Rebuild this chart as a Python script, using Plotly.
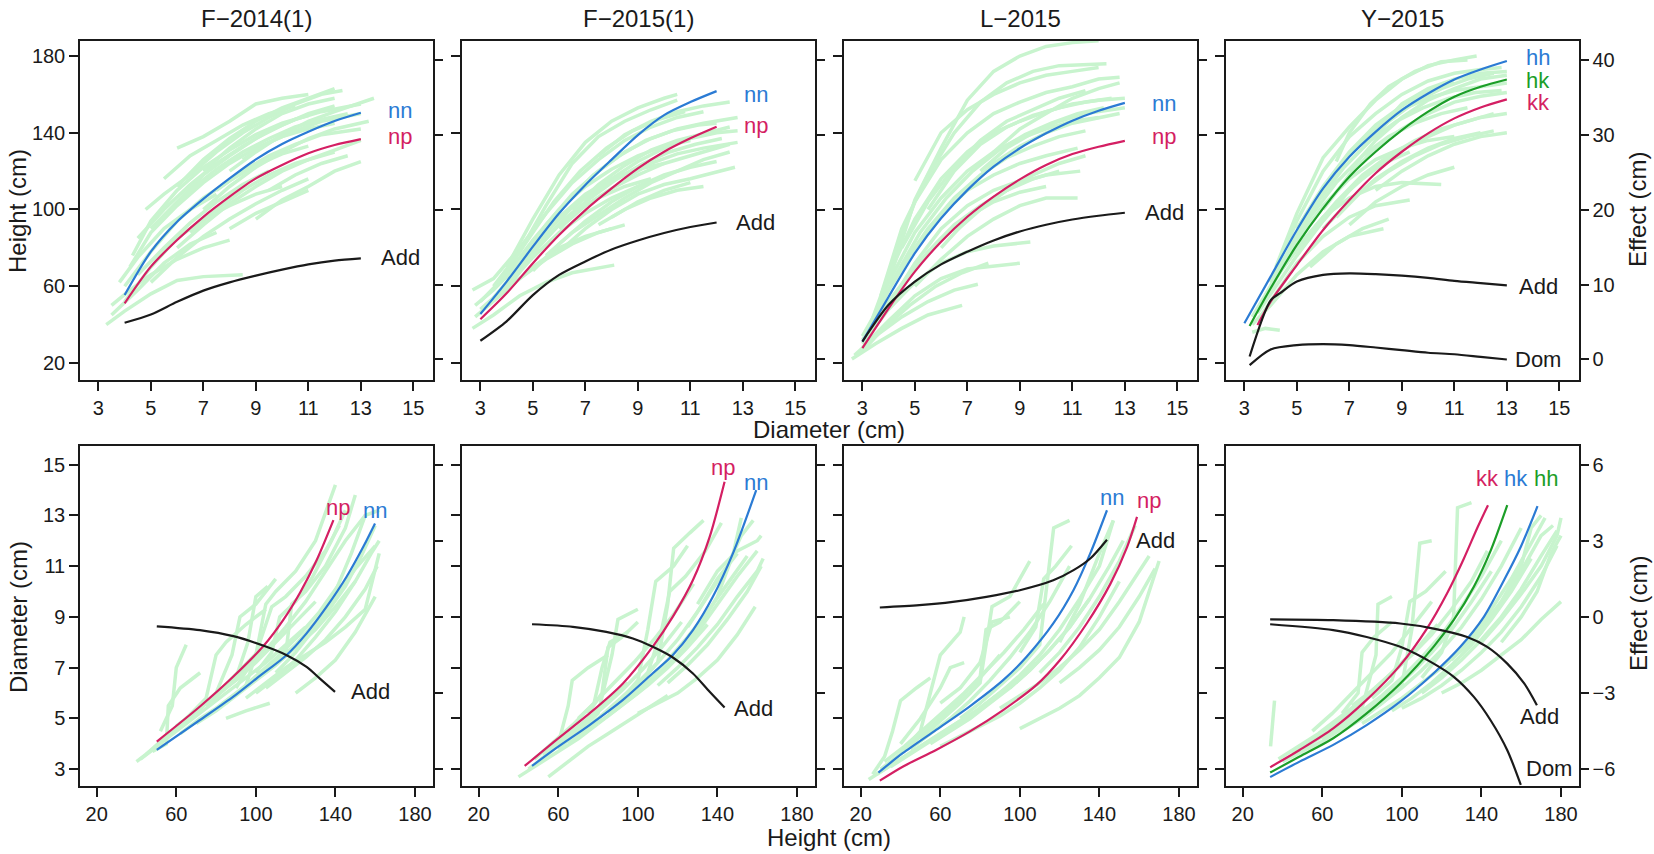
import plotly.graph_objects as go

# ---------------- top row: height vs diameter ----------------
t1_diam = [4, 5, 6, 7, 8, 9, 10, 11, 12, 13]
t1_nn = [55.4, 78.0, 93.6, 105.5, 116.2, 126.1, 134.1, 140.5, 146.1, 150.4]
t1_np = [51.1, 70.2, 84.1, 96.2, 106.7, 116.2, 123.2, 129.3, 133.6, 136.7]
t1_add = [4.9, 6.0, 7.7, 9.2, 10.3, 11.2, 12.0, 12.7, 13.2, 13.5]

t2_diam = [3, 4, 5, 6, 7, 8, 9, 10, 11, 12]
t2_nn = [45.5, 62.4, 80.6, 98.0, 112.8, 126.0, 138.8, 149.2, 156.0, 161.7]
t2_np = [42.8, 56.3, 72.0, 86.7, 99.7, 111.0, 121.4, 130.1, 137.1, 143.1]
t2_add = [2.5, 5.1, 8.6, 11.3, 13.1, 14.7, 15.9, 16.9, 17.7, 18.3]

t3_diam = [3, 4, 5, 6, 7, 8, 9, 10, 11, 12, 13]
t3_nn = [31.1, 54.5, 77.2, 95.4, 110.1, 122.3, 131.9, 139.7, 146.3, 151.5, 155.6]
t3_np = [27.7, 48.5, 67.6, 83.2, 96.2, 106.7, 115.7, 123.2, 128.9, 132.7, 135.8]
t3_add = [2.4, 7.3, 10.4, 12.7, 14.4, 15.9, 17.1, 18.0, 18.7, 19.2, 19.6]

t4_hh_x = [3, 4, 5, 6, 7, 8, 9, 10, 11, 12, 13]
t4_hh = [40.7, 65.0, 89.3, 111.0, 127.5, 140.5, 151.8, 160.5, 167.8, 173.0, 177.4]
t4_hk_x = [3.2, 4, 5, 6, 7, 8, 9, 10, 11, 12, 13]
t4_hk = [39.3, 58.9, 81.5, 100.6, 117.1, 130.1, 141.4, 151.0, 158.8, 164.0, 167.8]
t4_kk_x = [3.5, 4, 5, 6, 7, 8, 9, 10, 11, 12, 13]
t4_kk = [39.8, 52.0, 71.0, 89.3, 104.9, 118.9, 130.1, 139.7, 147.5, 153.2, 157.4]
t4_add_x = [3.2, 4.0, 4.36, 5, 6, 7, 8, 9, 10, 11, 12, 13]
t4_add = [0.4, 7.9, 8.85, 10.4, 11.3, 11.5, 11.4, 11.2, 10.9, 10.5, 10.2, 9.9]
t4_dom_x = [3.2, 4, 5, 6, 7, 8, 9, 10, 11, 12, 13]
t4_dom = [-0.76, 1.34, 1.92, 2.06, 1.92, 1.6, 1.25, 0.9, 0.7, 0.35, 0.0]

# individual trees (diameter, height)
t1_trees = [
    [(3.3, 40), (4, 47), (5, 56), (6, 63), (7, 65), (8.5, 66)],
    [(3.5, 45), (4.5, 58), (5.5, 72), (6.5, 82), (7.5, 88)],
    [(4, 52), (5, 70), (6, 85), (7, 95), (8, 102), (9, 108), (10, 112)],
    [(4, 60), (5, 78), (6, 94), (7, 106), (8, 115), (9, 123), (10, 129), (11, 133)],
    [(4.2, 70), (5, 88), (6, 102), (7, 114), (8, 124), (9, 132), (10, 138), (11, 142), (12, 145)],
    [(4.5, 85), (5.5, 100), (6.5, 113), (7.5, 124), (8.5, 133), (9.5, 141), (10.5, 147), (11.5, 151), (13, 155)],
    [(4.8, 100), (5.5, 108), (6.5, 118), (7.5, 130), (8.5, 140), (9.5, 148), (10.5, 155), (11.5, 160), (12.3, 162)],
    [(6, 132), (7, 138), (8, 146), (9, 155), (10, 158), (11, 160)],
    [(5, 62), (6, 75), (7, 86), (8, 95), (9, 103), (10, 110), (11, 116)],
    [(6, 80), (7, 92), (8, 103), (9, 112), (10, 120), (11, 126), (12, 131), (13, 136)],
    [(7, 100), (8, 112), (9, 122), (10, 130), (11, 137), (12, 142), (13.3, 146)],
    [(8, 120), (9, 130), (10, 139), (11, 146), (12, 151), (13.5, 158)],
    [(9, 95), (10, 105), (11, 112), (12, 120), (13, 125)],
    [(5, 90), (6, 104), (7, 118), (8, 128), (9, 137), (10, 144), (11, 150), (12, 154)],
    [(3.8, 62), (4.5, 75), (5.5, 90), (6.5, 100), (7.5, 108)],
    [(7, 120), (8, 132), (9, 142), (10, 150), (11, 155), (12, 158)],
    [(6.5, 88), (7.5, 100), (8.5, 110), (9.5, 118), (10.5, 124), (12, 130)],
    [(8, 90), (9, 98), (10, 104), (11, 110)],
    [(4.5, 66), (5.5, 80), (6.5, 93), (7.5, 104), (8.5, 113), (9.5, 120)],
    [(6, 112), (7, 126), (8, 137), (9, 146), (10, 153), (11, 158), (12, 163)],
    [(8.5, 126), (9.5, 135), (10.5, 141), (11.5, 146), (13, 150)],
    [(4.3, 76), (5, 94), (6, 110), (7, 122), (8, 131), (9, 139), (10, 145), (11, 149)],
    [(5.5, 96), (6.5, 110), (7.5, 121), (8.5, 130), (9.5, 137), (10.5, 143), (11.5, 147), (12.5, 150)],
    [(3.5, 50), (4.2, 58), (5, 66), (6, 74), (7, 80), (8, 84)],
    [(7.5, 110), (8.5, 120), (9.5, 128), (10.5, 134), (11.5, 139), (13, 142)],
    [(9.5, 110), (10.5, 118), (11.5, 124), (12.5, 128)],
    [(5.5, 116), (6.5, 128), (7.5, 136), (8.5, 144), (9.5, 150), (10.5, 154)],
]
t2_trees = [
    [(2.7, 38), (3.5, 45), (4.5, 55), (5.5, 62), (6.5, 67), (8.1, 71)],
    [(2.8, 44), (3.5, 52), (4.5, 64), (5.5, 74), (6.5, 82), (7.5, 88), (8.5, 92)],
    [(3, 48), (4, 60), (5, 75), (6, 88), (7, 98), (8, 106), (9, 112), (10, 117)],
    [(3, 52), (4, 66), (5, 84), (6, 100), (7, 112), (8, 121), (9, 128), (10, 133), (11, 136)],
    [(2.7, 58), (3.5, 64), (4.5, 80), (5.5, 98), (6.5, 114), (7.5, 126), (8.5, 136), (9.5, 143), (10.5, 148), (11.5, 151)],
    [(3.5, 60), (4.5, 78), (5.5, 102), (6.5, 124), (7.5, 138), (8.5, 146), (9.5, 152), (10.5, 157)],
    [(4, 70), (5, 95), (6, 118), (7, 135), (8, 146), (9, 153), (10, 158), (10.5, 160)],
    [(4.5, 72), (5.5, 92), (6.5, 108), (7.5, 120), (8.5, 130), (9.5, 137), (10.5, 142), (11.5, 145), (12.8, 148)],
    [(5, 68), (6, 82), (7, 94), (8, 104), (9, 112), (10, 118), (11, 122), (12, 125)],
    [(6, 78), (7, 90), (8, 100), (9, 108), (10, 113), (11, 116), (12.7, 122)],
    [(7, 104), (8, 116), (9, 125), (10, 132), (11, 137), (12, 140), (12.8, 141)],
    [(6.5, 100), (7.5, 113), (8.5, 123), (9.5, 131), (10.5, 136), (12.5, 143)],
    [(8, 96), (9, 104), (10, 110), (11, 114)],
    [(5, 80), (6, 96), (7, 108), (8, 116), (9, 121), (10, 124)],
    [(3.3, 50), (4.3, 66), (5.3, 86), (6.3, 104), (7.3, 118), (8.3, 128), (9.3, 136), (10.3, 141), (11.3, 144), (12, 145)],
    [(7.5, 92), (8.5, 100), (9.5, 106), (10.5, 110), (11.5, 112)],
    [(4, 58), (5, 70), (6, 80), (7, 86), (8, 90)],
    [(3.5, 54), (4.5, 70), (5.5, 86), (6.5, 98), (7.5, 106), (8.5, 112), (9.5, 116)],
    [(5.5, 76), (6.5, 88), (7.5, 97), (8.5, 106), (9.5, 114), (10.5, 120), (11.5, 126), (12.5, 130)],
    [(3.8, 64), (4.8, 84), (5.8, 104), (6.8, 120), (7.8, 132), (8.8, 141), (9.8, 147), (10.8, 151)],
    [(4.2, 62), (5.2, 80), (6.2, 95), (7.2, 106), (8.2, 116), (9.2, 124), (10.2, 130), (11.2, 134), (12.2, 137)],
    [(6, 90), (7, 102), (8, 111), (9, 118), (10, 124), (11, 128), (12.5, 134)],
    [(7.5, 128), (8.5, 139), (9.5, 146), (10.5, 151), (11.5, 154), (12.5, 156)],
    [(8.5, 116), (9.5, 124), (10.5, 129), (11.5, 132), (12.8, 135)],
    [(2.8, 50), (3.5, 58), (4.5, 72), (5.5, 88), (6.5, 101), (7.5, 111), (8.5, 118)],
]
t3_trees = [
    [(2.6, 22), (3.5, 30), (4.5, 38), (5.5, 45), (6.8, 50)],
    [(2.7, 24), (3.5, 34), (4.5, 44), (5.5, 52), (6.5, 58), (7.4, 61)],
    [(3, 28), (4, 42), (5, 55), (6, 64), (7, 69), (9, 72)],
    [(3, 30), (4, 48), (5, 62), (6, 72), (7, 78), (8, 81), (9.4, 83)],
    [(3, 32), (4, 52), (5, 70), (6, 85), (7, 96), (8, 104), (9, 109), (10, 112)],
    [(3, 34), (4, 58), (5, 80), (6, 97), (7, 110), (8, 118), (9, 124), (10, 128), (11.2, 132)],
    [(3.2, 36), (4, 62), (5, 88), (6, 106), (7, 120), (8, 130), (9, 137), (10, 142), (11, 146), (12, 148)],
    [(3.3, 40), (4, 66), (5, 95), (6, 116), (7, 130), (8, 140), (9, 146), (10, 151), (11, 155), (12, 157), (13, 158)],
    [(3.5, 45), (4.2, 75), (5, 104), (6, 126), (7, 140), (8, 150), (9, 156), (10, 161), (11, 164), (12, 168), (12.8, 169)],
    [(3.7, 55), (4.5, 90), (5.5, 118), (6.5, 140), (7.5, 156), (8.5, 166), (9.5, 172), (10.5, 175), (12.3, 176)],
    [(4, 62), (5, 105), (6, 132), (7, 157), (8, 172), (9, 180), (10, 185), (11, 187), (12, 188)],
    [(5, 60), (6, 74), (7, 86), (8, 95), (9, 102), (10, 106), (11.2, 106)],
    [(6, 80), (7, 95), (8, 106), (9, 114), (10, 118), (11.3, 120)],
    [(7, 110), (8, 124), (9, 133), (10, 140), (11, 145), (12, 148), (12.8, 150)],
    [(5.5, 100), (6.5, 120), (7.5, 134), (8.5, 143), (9.5, 149), (10.5, 153), (11.5, 156), (12.5, 158)],
    [(4, 50), (5, 72), (6, 90), (7, 102), (8, 110), (9, 115)],
    [(3.5, 40), (4.5, 60), (5.5, 78), (6.5, 92), (7.5, 102), (8.5, 110), (9.5, 116), (10.5, 120)],
    [(4.5, 80), (5.5, 104), (6.5, 122), (7.5, 136), (8.5, 146), (9.5, 152), (10.5, 158), (11.5, 162)],
    [(6.5, 88), (7.5, 100), (8.5, 110), (9.5, 118), (10.5, 124), (11.5, 128)],
    [(3.3, 38), (4.2, 64), (5.2, 88), (6.2, 106), (7.2, 120), (8.2, 131), (9.2, 139), (10.2, 145), (11.2, 150), (12.2, 153)],
    [(4.5, 70), (5.5, 90), (6.5, 106), (7.5, 118), (8.5, 127), (9.5, 133), (10.5, 138), (11.5, 141)],
    [(5, 115), (6, 140), (7, 152), (8, 160), (9, 166), (10, 170), (11, 172), (12, 174)],
    [(7.5, 120), (8.5, 132), (9.5, 140), (10.5, 146), (11.5, 150), (13, 153)],
    [(3, 26), (3.8, 38), (4.8, 50), (5.8, 60), (6.8, 67), (7.8, 72)],
    [(8, 130), (9, 142), (10, 150), (11, 158), (12, 163), (12.8, 166)],
]
t4_trees = [
    [(3.3, 36), (3.8, 38), (4.35, 37)],
    [(3.3, 40), (4, 50), (5, 66), (6, 78), (7, 86), (8.3, 90)],
    [(3.5, 42), (4.2, 56), (5, 72), (6, 86), (7, 96), (8, 102), (9.3, 105)],
    [(3.3, 44), (4, 60), (5, 80), (6, 96), (7, 106), (8, 112), (9, 114), (10.5, 113)],
    [(3.5, 48), (4.3, 66), (5, 84), (6, 102), (7, 116), (8, 126), (9, 132), (10, 136), (11, 138)],
    [(3.7, 52), (4.5, 74), (5.5, 96), (6.5, 114), (7.5, 128), (8.5, 138), (9.5, 145), (10.5, 150), (11.5, 153)],
    [(4, 58), (5, 88), (6, 110), (7, 128), (8, 142), (9, 152), (10, 158), (11, 162), (12, 164), (13, 166)],
    [(4, 62), (5, 94), (6, 120), (7, 138), (8, 150), (9, 160), (10, 167), (11, 171), (12, 173), (12.8, 174)],
    [(4.2, 70), (5, 98), (6, 127), (7, 143), (8, 157), (9, 168), (10, 175), (11, 178), (11.85, 180)],
    [(5, 76), (6, 94), (7, 110), (8, 122), (9, 131), (10, 138), (11, 144), (12, 148), (13, 150)],
    [(6, 90), (7, 104), (8, 116), (9, 125), (10, 132), (11, 137), (12, 140)],
    [(7, 120), (8, 136), (9, 148), (10, 157), (11, 163), (12, 168), (13, 170)],
    [(6, 100), (7, 118), (8, 132), (9, 142), (10, 150), (11, 156), (12, 159), (13, 161)],
    [(7, 92), (8, 104), (9, 112), (10, 118), (11, 122)],
    [(5.5, 70), (6.5, 82), (7.5, 90), (8.5, 95)],
    [(8, 140), (9, 155), (10, 163), (11, 168), (12, 171), (13, 172)],
    [(4.5, 70), (5.5, 88), (6.5, 104), (7.5, 118), (8.5, 128), (9.5, 136), (10.5, 142), (11.5, 146), (12.5, 150)],
    [(5, 90), (6, 112), (7, 130), (8, 144), (9, 154), (10, 162), (11, 166)],
    [(3.5, 46), (4.3, 62), (5.3, 82), (6.3, 100), (7.3, 114), (8.3, 124), (9.3, 130)],
    [(4.8, 80), (5.8, 104), (6.8, 122), (7.8, 136), (8.8, 146), (9.8, 153), (10.8, 158), (11.8, 161), (12.8, 162)],
    [(6.5, 96), (7.5, 110), (8.5, 120), (9.5, 128), (10.5, 134), (11.5, 138), (12.5, 141)],
    [(7.5, 132), (8.5, 146), (9.5, 156), (10.5, 163), (11.5, 168), (12.5, 171)],
    [(8, 110), (9, 120), (10, 128), (11, 134), (12, 138), (13, 140)],
    [(6.5, 125), (7, 140), (7.8, 155), (8.5, 164), (9.5, 172), (10.5, 177), (11.5, 178)],
]

# ---------------- bottom row: diameter vs height ----------------
b1_nn_x = [50.2, 71.9, 88.7, 100.4, 115.5, 125.5, 135.6, 145.6, 154.0, 159.9]
b1_nn = [3.76, 4.94, 5.86, 6.58, 7.5, 8.35, 9.4, 10.58, 11.76, 12.68]
b1_np_x = [50.2, 71.9, 88.7, 103.8, 113.8, 122.2, 130.6, 139.0]
b1_np = [4.09, 5.47, 6.65, 7.85, 8.88, 9.95, 11.24, 12.81]
b1_add_x = [50.2, 71.9, 88.7, 104.3, 115.5, 125.5, 132.2, 139.8]
b1_add = [-0.37, -0.52, -0.76, -1.15, -1.51, -1.97, -2.43, -2.95]

b2_nn_x = [46.8, 58.9, 75.7, 92.5, 107.5, 117.6, 127.7, 137.7, 147.8, 159.5]
b2_nn = [3.13, 3.83, 4.74, 5.73, 6.78, 7.5, 8.48, 9.79, 11.5, 13.99]
b2_np_x = [43.1, 58.9, 75.7, 92.5, 107.5, 117.6, 127.7, 136.1, 143.6]
b2_np = [3.13, 4.15, 5.2, 6.38, 7.83, 9.01, 10.45, 12.15, 14.32]
b2_add_x = [46.8, 67.3, 84.1, 97.5, 107.5, 117.6, 127.7, 136.1, 143.6]
b2_add = [-0.29, -0.39, -0.59, -0.85, -1.18, -1.6, -2.23, -2.95, -3.57]

b3_nn_x = [28.9, 41.1, 57.9, 74.7, 91.6, 103.4, 116.8, 127.0, 135.4, 143.8]
b3_nn = [2.87, 3.63, 4.55, 5.47, 6.51, 7.43, 8.74, 10.06, 11.5, 13.2]
b3_np_x = [29.6, 41.1, 57.9, 74.7, 91.6, 108.4, 120.2, 133.7, 145.5, 153.9, 158.9]
b3_np = [2.55, 3.1, 3.76, 4.48, 5.33, 6.32, 7.3, 8.75, 10.3, 11.75, 12.94]
b3_add_x = [29.6, 49.5, 66.3, 83.2, 100.0, 116.8, 127.0, 135.4, 143.8]
b3_add = [0.37, 0.46, 0.59, 0.79, 1.05, 1.44, 1.84, 2.3, 3.04]

b4_kk_x = [33.8, 48.6, 65.5, 82.3, 99.2, 112.6, 122.7, 131.2, 137.9, 143.3]
b4_kk = [3.08, 3.76, 4.61, 5.73, 7.1, 8.54, 9.92, 11.3, 12.5, 13.4]
b4_hk_x = [33.8, 48.6, 65.5, 82.3, 99.2, 116.0, 126.1, 136.2, 144.6, 153.0]
b4_hk = [2.87, 3.5, 4.22, 5.2, 6.38, 7.83, 8.88, 10.19, 11.6, 13.4]
b4_hh_x = [33.8, 48.6, 65.5, 82.3, 99.2, 116.0, 129.5, 141.3, 151.4, 159.8, 168.2]
b4_hh = [2.69, 3.3, 3.96, 4.74, 5.66, 6.78, 7.83, 9.01, 10.45, 11.76, 13.36]
b4_add_x = [33.8, 65.5, 99.2, 116.0, 132.8, 142.9, 153.0, 161.5, 167.9]
b4_add = [-0.1, -0.13, -0.26, -0.46, -0.79, -1.18, -1.84, -2.62, -3.48]
b4_dom_x = [33.8, 65.5, 82.3, 99.2, 116.0, 126.1, 136.2, 144.6, 153.0, 159.8]
b4_dom = [-0.29, -0.52, -0.79, -1.18, -1.84, -2.36, -3.15, -4.07, -5.25, -6.62]

# individual trees (height, diameter)
b1_trees = [
    [(40, 3.3), (50, 3.9), (60, 4.6), (70, 5.3), (80, 6.0), (90, 6.6)],
    [(45, 3.6), (55, 4.3), (65, 5.0), (75, 5.6), (85, 6.3), (95, 7.0), (105, 7.8)],
    [(85, 5.0), (95, 5.3), (107, 5.6)],
    [(52, 4.5), (58, 5.5), (60, 7.0), (65, 7.9)],
    [(60, 4.7), (70, 5.3), (80, 5.9), (90, 6.5), (100, 7.2), (110, 8.0), (120, 8.8), (130, 9.6)],
    [(70, 5.2), (80, 6.0), (88, 7.5), (92, 9.0), (100, 9.5), (110, 10.5)],
    [(75, 5.5), (85, 6.2), (95, 6.9), (105, 7.7), (115, 8.6), (125, 9.6), (135, 10.8), (145, 12.0), (155, 13.0)],
    [(80, 5.4), (90, 6.0), (100, 6.6), (110, 7.2), (120, 7.9), (130, 8.8), (140, 9.8), (150, 10.9), (160, 11.8)],
    [(90, 6.2), (100, 7.5), (105, 9.5), (110, 10.0), (120, 10.8), (130, 12.0), (140, 14.2)],
    [(100, 6.0), (110, 6.6), (120, 7.3), (130, 8.2), (140, 9.2), (150, 10.4), (158, 11.5), (162, 12.0)],
    [(110, 6.8), (120, 7.6), (130, 8.6), (140, 10.0), (148, 11.5), (155, 13.0), (162, 13.2)],
    [(95, 5.8), (105, 6.4), (115, 7.0), (125, 7.5), (135, 8.0), (145, 8.6), (155, 9.3), (162, 11.5)],
    [(115, 7.5), (118, 9.5), (125, 10.0), (135, 11.0), (145, 12.5), (150, 13.8)],
    [(65, 5.0), (75, 5.8), (80, 7.5), (85, 8.0), (95, 8.7), (105, 9.3)],
    [(55, 4.2), (65, 4.8), (75, 5.4), (85, 6.0), (95, 6.6), (105, 7.2), (115, 7.9), (125, 8.6)],
    [(120, 6.0), (130, 6.6), (140, 7.3), (150, 8.4), (160, 9.8)],
    [(48, 3.7), (55, 4.0), (56, 5.5), (62, 6.2), (72, 6.8)],
    [(100, 6.8), (108, 7.6), (112, 9.0), (120, 9.6), (128, 10.5), (138, 12.0), (145, 13.2)],
    [(62, 4.4), (72, 5.0), (82, 5.5), (92, 6.1), (102, 6.8), (112, 7.5), (122, 8.3), (132, 9.2), (142, 10.3)],
    [(105, 6.2), (115, 6.8), (125, 7.4), (135, 8.1), (145, 9.0), (155, 10.1), (161, 11.0)],
    [(42, 3.4), (52, 4.0), (62, 4.7), (72, 5.4), (82, 6.1), (92, 6.9), (102, 7.7)],
    [(85, 5.6), (95, 6.3), (102, 8.0), (108, 9.4), (115, 9.8), (125, 10.6), (135, 11.6), (142, 12.6)],
    [(125, 8.2), (135, 9.1), (145, 10.2), (153, 11.4), (160, 12.6)],
    [(70, 4.8), (80, 5.3), (90, 5.9), (100, 6.5), (110, 7.1), (120, 7.8), (130, 8.5), (140, 9.4), (150, 10.4)],
    [(90, 6.6), (96, 8.0), (100, 9.8), (106, 10.2)],
]
b2_trees = [
    [(40, 2.7), (50, 3.2), (60, 3.7), (70, 4.2), (80, 4.8)],
    [(45, 3.0), (55, 3.6), (65, 4.3), (75, 5.0), (85, 5.7), (95, 6.4)],
    [(50, 3.3), (60, 4.0), (65, 5.5), (67, 6.5), (75, 7.0), (85, 7.5)],
    [(55, 2.7), (65, 3.3), (75, 3.9), (85, 4.4), (95, 4.9), (105, 5.4), (115, 5.9)],
    [(60, 3.8), (70, 4.5), (80, 5.2), (87, 7.5), (90, 8.9), (100, 9.3)],
    [(70, 4.4), (80, 5.0), (90, 5.7), (100, 6.4), (110, 7.2), (120, 8.1), (130, 9.2), (140, 10.5), (150, 11.5)],
    [(80, 4.8), (90, 5.4), (100, 6.0), (110, 6.7), (120, 7.5), (130, 8.4), (140, 9.5), (150, 10.6), (160, 11.6)],
    [(90, 5.6), (100, 6.5), (105, 8.5), (109, 10.4), (118, 11.0), (125, 11.8)],
    [(100, 6.3), (110, 7.2), (115, 9.5), (118, 11.7), (126, 12.3), (133, 12.8)],
    [(110, 6.3), (120, 7.0), (130, 7.8), (140, 8.7), (150, 9.8), (160, 10.8), (163, 11.3)],
    [(120, 7.5), (130, 8.5), (140, 9.8), (148, 11.5), (152, 12.9)],
    [(100, 5.2), (110, 5.6), (120, 6.0), (130, 6.6), (140, 7.3), (150, 8.3), (159, 9.4)],
    [(75, 5.2), (82, 6.0), (85, 7.8), (92, 8.2), (100, 8.8)],
    [(130, 9.5), (140, 10.8), (150, 11.6), (160, 12.0), (162, 12.2)],
    [(65, 4.0), (75, 4.6), (85, 5.1), (95, 5.7), (105, 6.3), (115, 7.0), (125, 7.8), (135, 8.7)],
    [(48, 3.4), (58, 4.1), (68, 4.8), (78, 5.6), (88, 6.4), (98, 7.2), (108, 8.1), (118, 9.1), (128, 10.3)],
    [(85, 5.2), (95, 5.8), (105, 6.5), (115, 7.3), (125, 8.2), (135, 9.2), (145, 10.3), (155, 11.4)],
    [(52, 3.6), (62, 4.2), (72, 4.8), (82, 5.4), (92, 6.1), (102, 6.9), (112, 7.8), (122, 8.8)],
    [(95, 6.0), (105, 6.8), (112, 8.5), (116, 10.0), (124, 10.6), (134, 11.6), (142, 12.7)],
    [(115, 6.4), (125, 7.1), (135, 7.9), (145, 8.9), (155, 10.0), (162, 11.0)],
    [(70, 5.0), (78, 5.6), (82, 7.0), (86, 8.0), (95, 8.4)],
    [(125, 8.6), (135, 9.8), (145, 11.0), (152, 12.2), (158, 12.8)],
]
b3_trees = [
    [(24, 2.6), (30, 2.9), (40, 3.4), (50, 3.9), (60, 4.4), (70, 4.9)],
    [(26, 2.8), (32, 3.5), (36, 4.5), (40, 5.7), (48, 6.2), (55, 6.6)],
    [(30, 3.0), (40, 3.6), (50, 4.3), (60, 5.0), (70, 5.8), (80, 6.6), (90, 7.5)],
    [(35, 3.1), (45, 3.6), (55, 4.1), (65, 4.6), (75, 5.1), (85, 5.7), (95, 6.3), (105, 7.0)],
    [(40, 3.6), (50, 4.5), (55, 6.0), (60, 7.5), (70, 8.4), (72, 9.0)],
    [(45, 3.8), (55, 4.4), (65, 5.0), (75, 5.7), (85, 6.5), (95, 7.4), (105, 8.4), (115, 9.6), (125, 11.0)],
    [(50, 4.2), (60, 4.9), (70, 5.6), (80, 6.4), (86, 9.4), (95, 9.8), (105, 11.2)],
    [(60, 3.9), (70, 4.3), (80, 4.7), (90, 5.1), (100, 5.6), (110, 6.2), (120, 6.9), (130, 7.8), (140, 9.0), (150, 10.4)],
    [(70, 5.0), (80, 5.6), (90, 6.3), (100, 7.0), (110, 7.9), (117, 12.5), (125, 12.8)],
    [(80, 5.4), (90, 6.0), (100, 6.7), (110, 7.5), (120, 8.5), (130, 9.7), (140, 11.0), (147, 12.8)],
    [(90, 5.4), (100, 5.9), (110, 6.4), (120, 7.0), (130, 7.7), (140, 8.5), (150, 9.6), (160, 10.8), (165, 11.4)],
    [(100, 4.6), (110, 5.0), (120, 5.4), (130, 5.9), (140, 6.6), (150, 7.4), (160, 8.8), (170, 11.2)],
    [(110, 6.8), (120, 7.6), (130, 8.6), (140, 9.8), (150, 11.2), (158, 12.6)],
    [(40, 4.0), (50, 5.0), (60, 6.2), (65, 7.0), (72, 7.2)],
    [(120, 8.0), (130, 9.5), (140, 11.5), (147, 12.8)],
    [(60, 5.6), (70, 6.2), (80, 7.2), (86, 8.8), (95, 9.0)],
    [(32, 3.3), (42, 3.9), (52, 4.6), (62, 5.3), (72, 6.0), (82, 6.8), (92, 7.6), (102, 8.5), (112, 9.5)],
    [(55, 4.0), (65, 4.5), (75, 5.0), (85, 5.6), (95, 6.2), (105, 6.9), (115, 7.7), (125, 8.6), (135, 9.7)],
    [(28, 2.8), (38, 3.3), (48, 3.8), (58, 4.3), (68, 4.8), (78, 5.3), (88, 5.9), (98, 6.5), (108, 7.2)],
    [(65, 5.3), (75, 6.0), (80, 6.6), (83, 8.5), (90, 8.8), (100, 9.6)],
    [(95, 6.2), (105, 6.9), (115, 7.7), (125, 8.6), (135, 9.7), (145, 11.0), (152, 12.0)],
    [(120, 6.4), (130, 7.0), (140, 7.7), (150, 8.6), (160, 9.8), (168, 10.9)],
    [(100, 7.6), (108, 8.6), (112, 10.5), (118, 11.0), (126, 11.8)],
]
b4_trees = [
    [(34, 3.9), (35, 5.0), (36, 5.7)],
    [(40, 3.3), (50, 3.7), (60, 4.1), (70, 4.6), (80, 5.1), (90, 5.6)],
    [(45, 3.6), (55, 4.1), (65, 4.7), (75, 5.3), (85, 6.0), (95, 6.8), (105, 7.6)],
    [(50, 3.8), (60, 4.3), (70, 4.8), (80, 5.4), (87, 7.5), (88, 9.5), (95, 9.8)],
    [(60, 4.2), (70, 4.7), (80, 5.3), (90, 5.9), (100, 6.6), (110, 7.4), (120, 8.3), (130, 9.4), (140, 10.6), (150, 12.0)],
    [(70, 4.5), (80, 5.0), (90, 5.6), (100, 6.2), (110, 6.9), (120, 7.7), (130, 8.6), (140, 9.7), (150, 11.0), (160, 12.5)],
    [(80, 4.8), (90, 5.3), (100, 5.8), (110, 6.4), (120, 7.0), (130, 7.7), (140, 8.6), (150, 9.6), (160, 10.8), (170, 12.2), (176, 12.6)],
    [(90, 5.6), (100, 6.3), (105, 8.5), (109, 11.9), (115, 12.0)],
    [(100, 5.4), (110, 5.8), (120, 6.3), (130, 6.9), (140, 7.6), (150, 8.4), (160, 9.4), (170, 10.6), (178, 11.8)],
    [(110, 6.6), (120, 7.6), (126, 9.0), (128, 13.3), (135, 13.5)],
    [(120, 6.0), (130, 6.4), (140, 6.9), (150, 7.5), (160, 8.1), (170, 8.9), (180, 9.6)],
    [(130, 7.5), (140, 8.4), (150, 9.6), (160, 11.0), (165, 12.5), (170, 13.0)],
    [(140, 8.0), (150, 8.9), (160, 9.9), (170, 11.0), (178, 12.2), (180, 12.9)],
    [(70, 5.2), (78, 6.0), (80, 7.6), (86, 8.2), (95, 8.8)],
    [(55, 4.5), (65, 5.2), (75, 6.0), (85, 6.8), (95, 7.6), (105, 8.6), (115, 9.6)],
    [(150, 8.0), (160, 9.0), (168, 10.0), (175, 11.5), (180, 12.2)],
    [(65, 4.4), (75, 4.9), (85, 5.5), (95, 6.1), (105, 6.8), (115, 7.6), (125, 8.5), (135, 9.6), (145, 10.8)],
    [(95, 5.3), (105, 5.8), (115, 6.4), (125, 7.1), (135, 7.9), (145, 8.9), (155, 10.0), (165, 11.3)],
    [(38, 3.4), (48, 3.9), (58, 4.4), (68, 5.0), (78, 5.6), (88, 6.3), (98, 7.0), (108, 7.8), (118, 8.7)],
    [(85, 5.8), (95, 6.5), (100, 7.8), (104, 9.6), (112, 10.0), (122, 10.8)],
    [(110, 6.0), (120, 6.6), (130, 7.3), (140, 8.1), (150, 9.0), (160, 10.1), (170, 11.4), (178, 12.4)],
    [(125, 7.3), (135, 8.2), (145, 9.3), (155, 10.5), (165, 11.9), (172, 12.9)],
    [(75, 5.5), (85, 6.1), (95, 6.8), (105, 7.5), (115, 8.3), (125, 9.3), (135, 10.4), (143, 11.6)],
]

titles = ['F\u22122014(1)', 'F\u22122015(1)', 'L\u22122015', 'Y\u22122015']

W, H = 1654, 854
FONT = 'Arial, Liberation Sans, sans-serif'
BLUE = '#2b7bd4'
RED = '#d41f63'
GREEN = '#1c9e28'
PALE = '#c8f4ce'
INK = '#1a1a1a'

col_left = [80, 462, 844, 1226]
panel_w = 352.5
row_top = [40.7, 446]
row_bot = [380, 786]


def xname(i):
    return 'x' if i == 0 else f'x{i + 1}'


def yname(i, right=False):
    k = i + 9 if right else i + 1
    return 'y' if k == 1 else f'y{k}'


fig = go.Figure()


def add_curve(i, x, y, color, width=2.2, right=False, smooth=True):
    fig.add_trace(go.Scatter(
        x=x, y=y, mode='lines', xaxis=xname(i), yaxis=yname(i, right),
        line=dict(color=color, width=width, shape='spline' if smooth else 'linear',
                  smoothing=0.8),
        hoverinfo='skip', showlegend=False,
    ))


def add_trees(i, trees):
    for tree in trees:
        xs, ys = zip(*tree)
        add_curve(i, list(xs), list(ys), PALE, width=3.5, smooth=False)


all_trees = [t1_trees, t2_trees, t3_trees, t4_trees, b1_trees, b2_trees, b3_trees, b4_trees]
for i, trees in enumerate(all_trees):
    add_trees(i, trees)

# genotype curves
add_curve(0, t1_diam, t1_nn, BLUE)
add_curve(0, t1_diam, t1_np, RED)
add_curve(1, t2_diam, t2_nn, BLUE)
add_curve(1, t2_diam, t2_np, RED)
add_curve(2, t3_diam, t3_nn, BLUE)
add_curve(2, t3_diam, t3_np, RED)
add_curve(3, t4_hh_x, t4_hh, BLUE)
add_curve(3, t4_hk_x, t4_hk, GREEN)
add_curve(3, t4_kk_x, t4_kk, RED)
add_curve(4, b1_nn_x, b1_nn, BLUE)
add_curve(4, b1_np_x, b1_np, RED)
add_curve(5, b2_nn_x, b2_nn, BLUE)
add_curve(5, b2_np_x, b2_np, RED)
add_curve(6, b3_nn_x, b3_nn, BLUE)
add_curve(6, b3_np_x, b3_np, RED)
add_curve(7, b4_hh_x, b4_hh, BLUE)
add_curve(7, b4_hk_x, b4_hk, GREEN)
add_curve(7, b4_kk_x, b4_kk, RED)

# effect curves on the right axes
add_curve(0, t1_diam, t1_add, INK, right=True)
add_curve(1, t2_diam, t2_add, INK, right=True)
add_curve(2, t3_diam, t3_add, INK, right=True)
add_curve(3, t4_add_x, t4_add, INK, right=True)
add_curve(3, t4_dom_x, t4_dom, INK, right=True)
add_curve(4, b1_add_x, b1_add, INK, right=True)
add_curve(5, b2_add_x, b2_add, INK, right=True)
add_curve(6, b3_add_x, b3_add, INK, right=True)
add_curve(7, b4_add_x, b4_add, INK, right=True)
add_curve(7, b4_dom_x, b4_dom, INK, right=True)

tick_font = dict(family=FONT, size=20, color=INK)
common = dict(showgrid=False, zeroline=False, ticks='outside', ticklen=9, tickwidth=1.5,
              tickcolor=INK, tickfont=tick_font, linecolor=INK, linewidth=1.5,
              automargin=False)

layout = {}
for i in range(8):
    row, col = divmod(i, 4)
    x0 = col_left[col] / W
    x1 = (col_left[col] + panel_w) / W
    y0 = 1 - row_bot[row] / H
    y1 = 1 - row_top[row] / H
    kx = 'xaxis' if i == 0 else f'xaxis{i + 1}'
    ky = 'yaxis' if i == 0 else f'yaxis{i + 1}'
    kr = f'yaxis{i + 9}'
    if row == 0:
        xr, xt = [2.30, 15.73], [3, 5, 7, 9, 11, 13, 15]
        yr, yt = [11.1, 188.0], [20, 60, 100, 140, 180]
        er, et = [-2.74, 42.58], [0, 10, 20, 30, 40]
    else:
        xr, xt = [11.6, 188.8], [20, 60, 100, 140, 180]
        yr, yt = [2.34, 15.73], [3, 5, 7, 9, 11, 13, 15]
        er, et = [-6.66, 6.73], [-6, -3, 0, 3, 6]
    layout[kx] = dict(domain=[x0, x1], range=xr, tickvals=xt, anchor=yname(i),
                      showline=True, mirror=True, **common)
    layout[ky] = dict(domain=[y0, y1], range=yr, tickvals=yt, anchor=xname(i),
                      showline=True, mirror=True, showticklabels=(col == 0), **common)
    layout[kr] = dict(range=er, tickvals=et, overlaying=yname(i), side='right',
                      anchor=xname(i), showline=False, showticklabels=(col == 3), **common)

annotations = []
for col, t in enumerate(titles):
    annotations.append(dict(text=t, x=(col_left[col] + panel_w / 2) / W, y=1 - 18 / H,
                            xref='paper', yref='paper', showarrow=False,
                            xanchor='center', yanchor='middle',
                            font=dict(family=FONT, size=24, color=INK)))


def axis_title(text, xp, yp, angle=0):
    annotations.append(dict(text=text, x=xp / W, y=1 - yp / H, xref='paper', yref='paper',
                            showarrow=False, textangle=angle,
                            xanchor='center', yanchor='middle',
                            font=dict(family=FONT, size=24, color=INK)))


axis_title('Height (cm)', 18, 211, -90)
axis_title('Diameter (cm)', 18, 617, -90)
axis_title('Effect (cm)', 1638, 209, -90)
axis_title('Effect (cm)', 1638, 613, -90)
axis_title('Diameter (cm)', 829, 429)
axis_title('Height (cm)', 829, 837)


def label(i, text, x, y, color, right=False):
    annotations.append(dict(text=text, x=x, y=y, xref=xname(i), yref=yname(i, right),
                            showarrow=False, xanchor='center', yanchor='middle',
                            font=dict(family=FONT, size=22, color=color)))


label(0, 'nn', 14.5, 151.8, BLUE)
label(0, 'np', 14.5, 138.3, RED)
label(0, 'Add', 14.5, 13.6, INK, True)
label(1, 'nn', 13.5, 159.7, BLUE)
label(1, 'np', 13.5, 144.0, RED)
label(1, 'Add', 13.5, 18.3, INK, True)
label(2, 'nn', 14.5, 155.3, BLUE)
label(2, 'np', 14.5, 138.3, RED)
label(2, 'Add', 14.5, 19.6, INK, True)
label(3, 'hh', 14.2, 179.0, BLUE)
label(3, 'hk', 14.2, 167.5, GREEN)
label(3, 'kk', 14.2, 156.0, RED)
label(3, 'Add', 14.2, 9.8, INK, True)
label(3, 'Dom', 14.2, 0.0, INK, True)
label(4, 'np', 141.4, 13.3, RED)
label(4, 'nn', 159.9, 13.2, BLUE)
label(4, 'Add', 157.7, -2.95, INK, True)
label(5, 'np', 142.8, 14.9, RED)
label(5, 'nn', 159.5, 14.28, BLUE)
label(5, 'Add', 157.9, -3.6, INK, True)
label(6, 'nn', 146.3, 13.7, BLUE)
label(6, 'np', 164.8, 13.6, RED)
label(6, 'Add', 168.2, 3.02, INK, True)
label(7, 'kk', 143.3, 14.45, RED)
label(7, 'hk', 157.3, 14.45, BLUE)
label(7, 'hh', 172.4, 14.45, GREEN)
label(7, 'Add', 169.0, -3.91, INK, True)
label(7, 'Dom', 174.1, -5.97, INK, True)

fig.update_layout(
    width=W, height=H,
    margin=dict(l=0, r=0, t=0, b=0),
    paper_bgcolor='white', plot_bgcolor='white',
    showlegend=False,
    annotations=annotations,
    **layout,
)

# the page body has a default 8px margin; drop it so the figure fills the window
fig.write_html('out.html', config={'displayModeBar': False},
               post_script="document.body.style.margin='0';")
